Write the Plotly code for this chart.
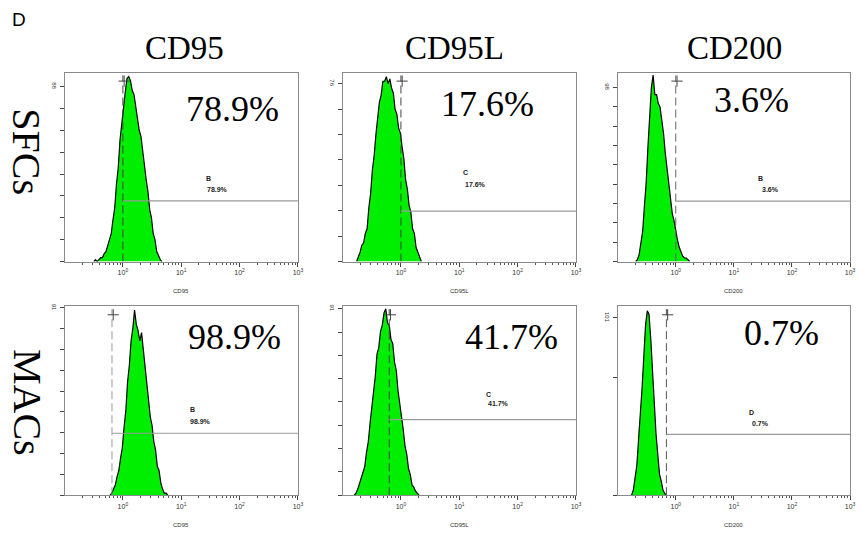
import numpy as np
import plotly.graph_objects as go

# ---------------- data ----------------
markers = ["CD95", "CD95L", "CD200"]
row_names = ["SFCs", "MACs"]
big_pct = ["78.9%", "17.6%", "3.6%", "98.9%", "41.7%", "0.7%"]
gate_names = ["B", "C", "B", "B", "C", "D"]
ymax_label = [88, 76, 98, 91, 91, 101]
x_tick_vals = [1, 10, 100, 1000]
x_tick_text = ["10<sup>0</sup>", "10<sup>1</sup>", "10<sup>2</sup>", "10<sup>3</sup>"]

bin_step = 0.03  # log10 units
bin_start = [-0.50, -0.76, -0.69, -0.22, -0.80, -0.76]

counts_sfc_cd95 = [0, 1, 0, 1, 2, 2, 4, 5, 8, 10, 14, 21, 27, 39, 47, 61, 69, 80, 85, 92,
                   93, 91, 86, 84, 77, 73, 66, 63, 55, 50, 41, 35, 26, 22, 14, 11, 5, 3, 1, 0]
counts_sfc_cd95l = [0, 2, 4, 7, 8, 12, 14, 23, 29, 39, 45, 54, 60, 68, 71, 77, 77, 79, 76, 78,
                    74, 72, 65, 63, 57, 55, 49, 44, 35, 31, 24, 21, 14, 12, 6, 4, 2, 0]
counts_sfc_cd200 = [0, 1, 4, 10, 17, 31, 44, 64, 81, 98, 105, 94, 94, 89, 87, 80, 72, 61, 53, 42,
                    37, 27, 23, 16, 12, 8, 5, 3, 2, 2, 1, 0]
counts_mac_cd95 = [0, 1, 3, 5, 9, 12, 18, 23, 33, 41, 55, 63, 75, 81, 90, 83, 80, 75, 79, 71,
                   65, 55, 48, 38, 34, 26, 22, 14, 12, 6, 3, 1, 1, 0]
counts_mac_cd95l = [0, 1, 3, 6, 8, 12, 14, 21, 26, 35, 42, 52, 58, 69, 72, 80, 83, 89, 91, 84,
                    83, 76, 74, 65, 61, 51, 45, 37, 32, 24, 20, 13, 10, 5, 4, 2, 1, 0]
counts_mac_cd200 = [0, 3, 10, 17, 32, 44, 61, 79, 97, 105, 103, 89, 67, 53, 35, 25, 12, 8, 3, 1, 0]

all_counts = [counts_sfc_cd95, counts_sfc_cd95l, counts_sfc_cd200,
              counts_mac_cd95, counts_mac_cd95l, counts_mac_cd200]

gate_x = [1.0, 1.0, 1.0, 0.65, 0.63, 0.69]
gate_y = [30.5, 21.5, 34.0, 30.1, 36.9, 34.6]

# ---------------- layout helpers ----------------
SERIF = "Times New Roman, Liberation Serif, serif"
W, H = 861, 534
col_px = [(65, 300), (345, 580), (622, 856)]
row_px = [(70, 260), (305, 495)]
y_top = [95, 80.7, 106.4, 91.8, 92.2, 107.6]
y_intervals = [8, 7, 9, 9, 8, None]
big_pos = [(0.72, 0.81), (0.62, 0.836), (0.576, 0.855), (0.73, 0.837), (0.723, 0.84), (0.704, 0.861)]
gname_pos = [(0.596, 0.442), (0.506, 0.472), (0.597, 0.44), (0.528, 0.456), (0.607, 0.535), (0.556, 0.44)]
gpct_pos = [(0.604, 0.379), (0.516, 0.407), (0.614, 0.38), (0.53, 0.39), (0.616, 0.486), (0.571, 0.38)]
dash_color = ["#444444", "#444444", "#666666", "#999999", "#444444", "#555555"]

minor_vals = []
for d in [0.1, 1, 10, 100]:
    for k in range(2, 10):
        minor_vals.append(k * d)

fig = go.Figure()
layout = dict(width=W, height=H, margin=dict(l=0, r=0, t=0, b=0),
              paper_bgcolor="white", plot_bgcolor="white", showlegend=False)
annotations = []

for i in range(6):
    r, c = divmod(i, 3)
    ax = "" if i == 0 else str(i + 1)
    xa, ya = "x" + ax, "y" + ax
    x0, x1 = col_px[c]
    y0, y1 = row_px[r]
    counts = all_counts[i]
    logs = bin_start[i] + bin_step * np.arange(len(counts))
    xs = 10 ** logs

    fig.add_trace(go.Scatter(x=xs, y=counts, mode="lines", fill="tozeroy",
                             fillcolor="#00ee00", line=dict(color="black", width=1.2),
                             xaxis=xa, yaxis=ya, hoverinfo="skip"))
    # gate vertical dashed line
    fig.add_trace(go.Scatter(x=[gate_x[i], gate_x[i]], y=[0, y_top[i] * 0.985], mode="lines",
                             line=dict(color=dash_color[i], width=1, dash="8px,4px"),
                             xaxis=xa, yaxis=ya, hoverinfo="skip"))
    # gate horizontal line
    fig.add_trace(go.Scatter(x=[gate_x[i], 1000], y=[gate_y[i], gate_y[i]], mode="lines",
                             line=dict(color="#9a9a9a", width=1.2),
                             xaxis=xa, yaxis=ya, hoverinfo="skip"))
    # cross marker
    fig.add_trace(go.Scatter(x=[gate_x[i] * 1.05], y=[y_top[i] * 0.955], mode="markers",
                             marker=dict(symbol="cross-thin", size=8,
                                         line=dict(color="#444444", width=1)),
                             xaxis=xa, yaxis=ya, hoverinfo="skip"))

    n = y_intervals[i]
    if n is not None:
        minor_y = [ymax_label[i] * k / n for k in range(n)]
    else:
        minor_y = [0, 67]

    layout["xaxis" + ax] = dict(
        domain=[x0 / W, x1 / W], anchor=ya, type="log", range=[-1, 3],
        showgrid=False, zeroline=False, showline=True, mirror=True,
        linecolor="#8a8a8a", linewidth=1,
        ticks="outside", ticklen=4, tickcolor="#444444", tickwidth=1,
        tickvals=x_tick_vals, ticktext=x_tick_text,
        tickfont=dict(family="Arial", size=7, color="#333333"),
        minor=dict(tickvals=minor_vals, ticks="outside", ticklen=2,
                   tickcolor="#555555", tickwidth=1, showgrid=False),
    )
    layout["yaxis" + ax] = dict(
        domain=[1 - y1 / H, 1 - y0 / H], anchor=xa, range=[0, y_top[i]],
        showgrid=False, zeroline=False, showline=True, mirror=True,
        linecolor="#8a8a8a", linewidth=1,
        ticks="outside", ticklen=4, tickcolor="#444444", tickwidth=1,
        tickvals=[ymax_label[i]], ticktext=[str(ymax_label[i])], tickangle=90,
        tickfont=dict(family="Arial", size=6, color="#333333"),
        minor=dict(tickvals=minor_y, ticks="outside", ticklen=4,
                   tickcolor="#444444", tickwidth=1, showgrid=False),
    )

    xd, yd = xa + " domain", ya + " domain"
    annotations.append(dict(text=big_pct[i], xref=xd, yref=yd, x=big_pos[i][0], y=big_pos[i][1],
                            xanchor="center", yanchor="middle", showarrow=False,
                            font=dict(family=SERIF, size=36, color="black")))
    annotations.append(dict(text="<b>" + gate_names[i] + "</b>", xref=xd, yref=yd,
                            x=gname_pos[i][0], y=gname_pos[i][1], xanchor="left", yanchor="middle",
                            showarrow=False, font=dict(family="Arial", size=7, color="#222222")))
    annotations.append(dict(text="<b>" + big_pct[i] + "</b>", xref=xd, yref=yd,
                            x=gpct_pos[i][0], y=gpct_pos[i][1], xanchor="left", yanchor="middle",
                            showarrow=False, font=dict(family="Arial", size=7, color="#222222")))
    annotations.append(dict(text=markers[c], xref=xd, yref=yd, x=0.5, y=-30 / 190,
                            xanchor="center", yanchor="middle", showarrow=False,
                            font=dict(family="Arial", size=6, color="#333333")))

# column titles
col_title_x = [186, 458, 740]
for c in range(3):
    annotations.append(dict(text=markers[c], xref="paper", yref="paper",
                            x=col_title_x[c] / W, y=1 - 45 / H, xanchor="center", yanchor="middle",
                            showarrow=False, font=dict(family=SERIF, size=33, color="black")))
# row titles
row_title_y = [150, 402]
for r in range(2):
    annotations.append(dict(text=row_names[r], xref="paper", yref="paper",
                            x=27 / W, y=1 - row_title_y[r] / H, xanchor="center", yanchor="middle",
                            textangle=90, showarrow=False,
                            font=dict(family=SERIF, size=40, color="black")))
# panel letter
annotations.append(dict(text="D", xref="paper", yref="paper", x=10 / W, y=1 - 17 / H,
                        xanchor="left", yanchor="middle", showarrow=False,
                        font=dict(family="Arial", size=19, color="black")))

layout["annotations"] = annotations
fig.update_layout(**layout)
fig.write_html("out.html")
